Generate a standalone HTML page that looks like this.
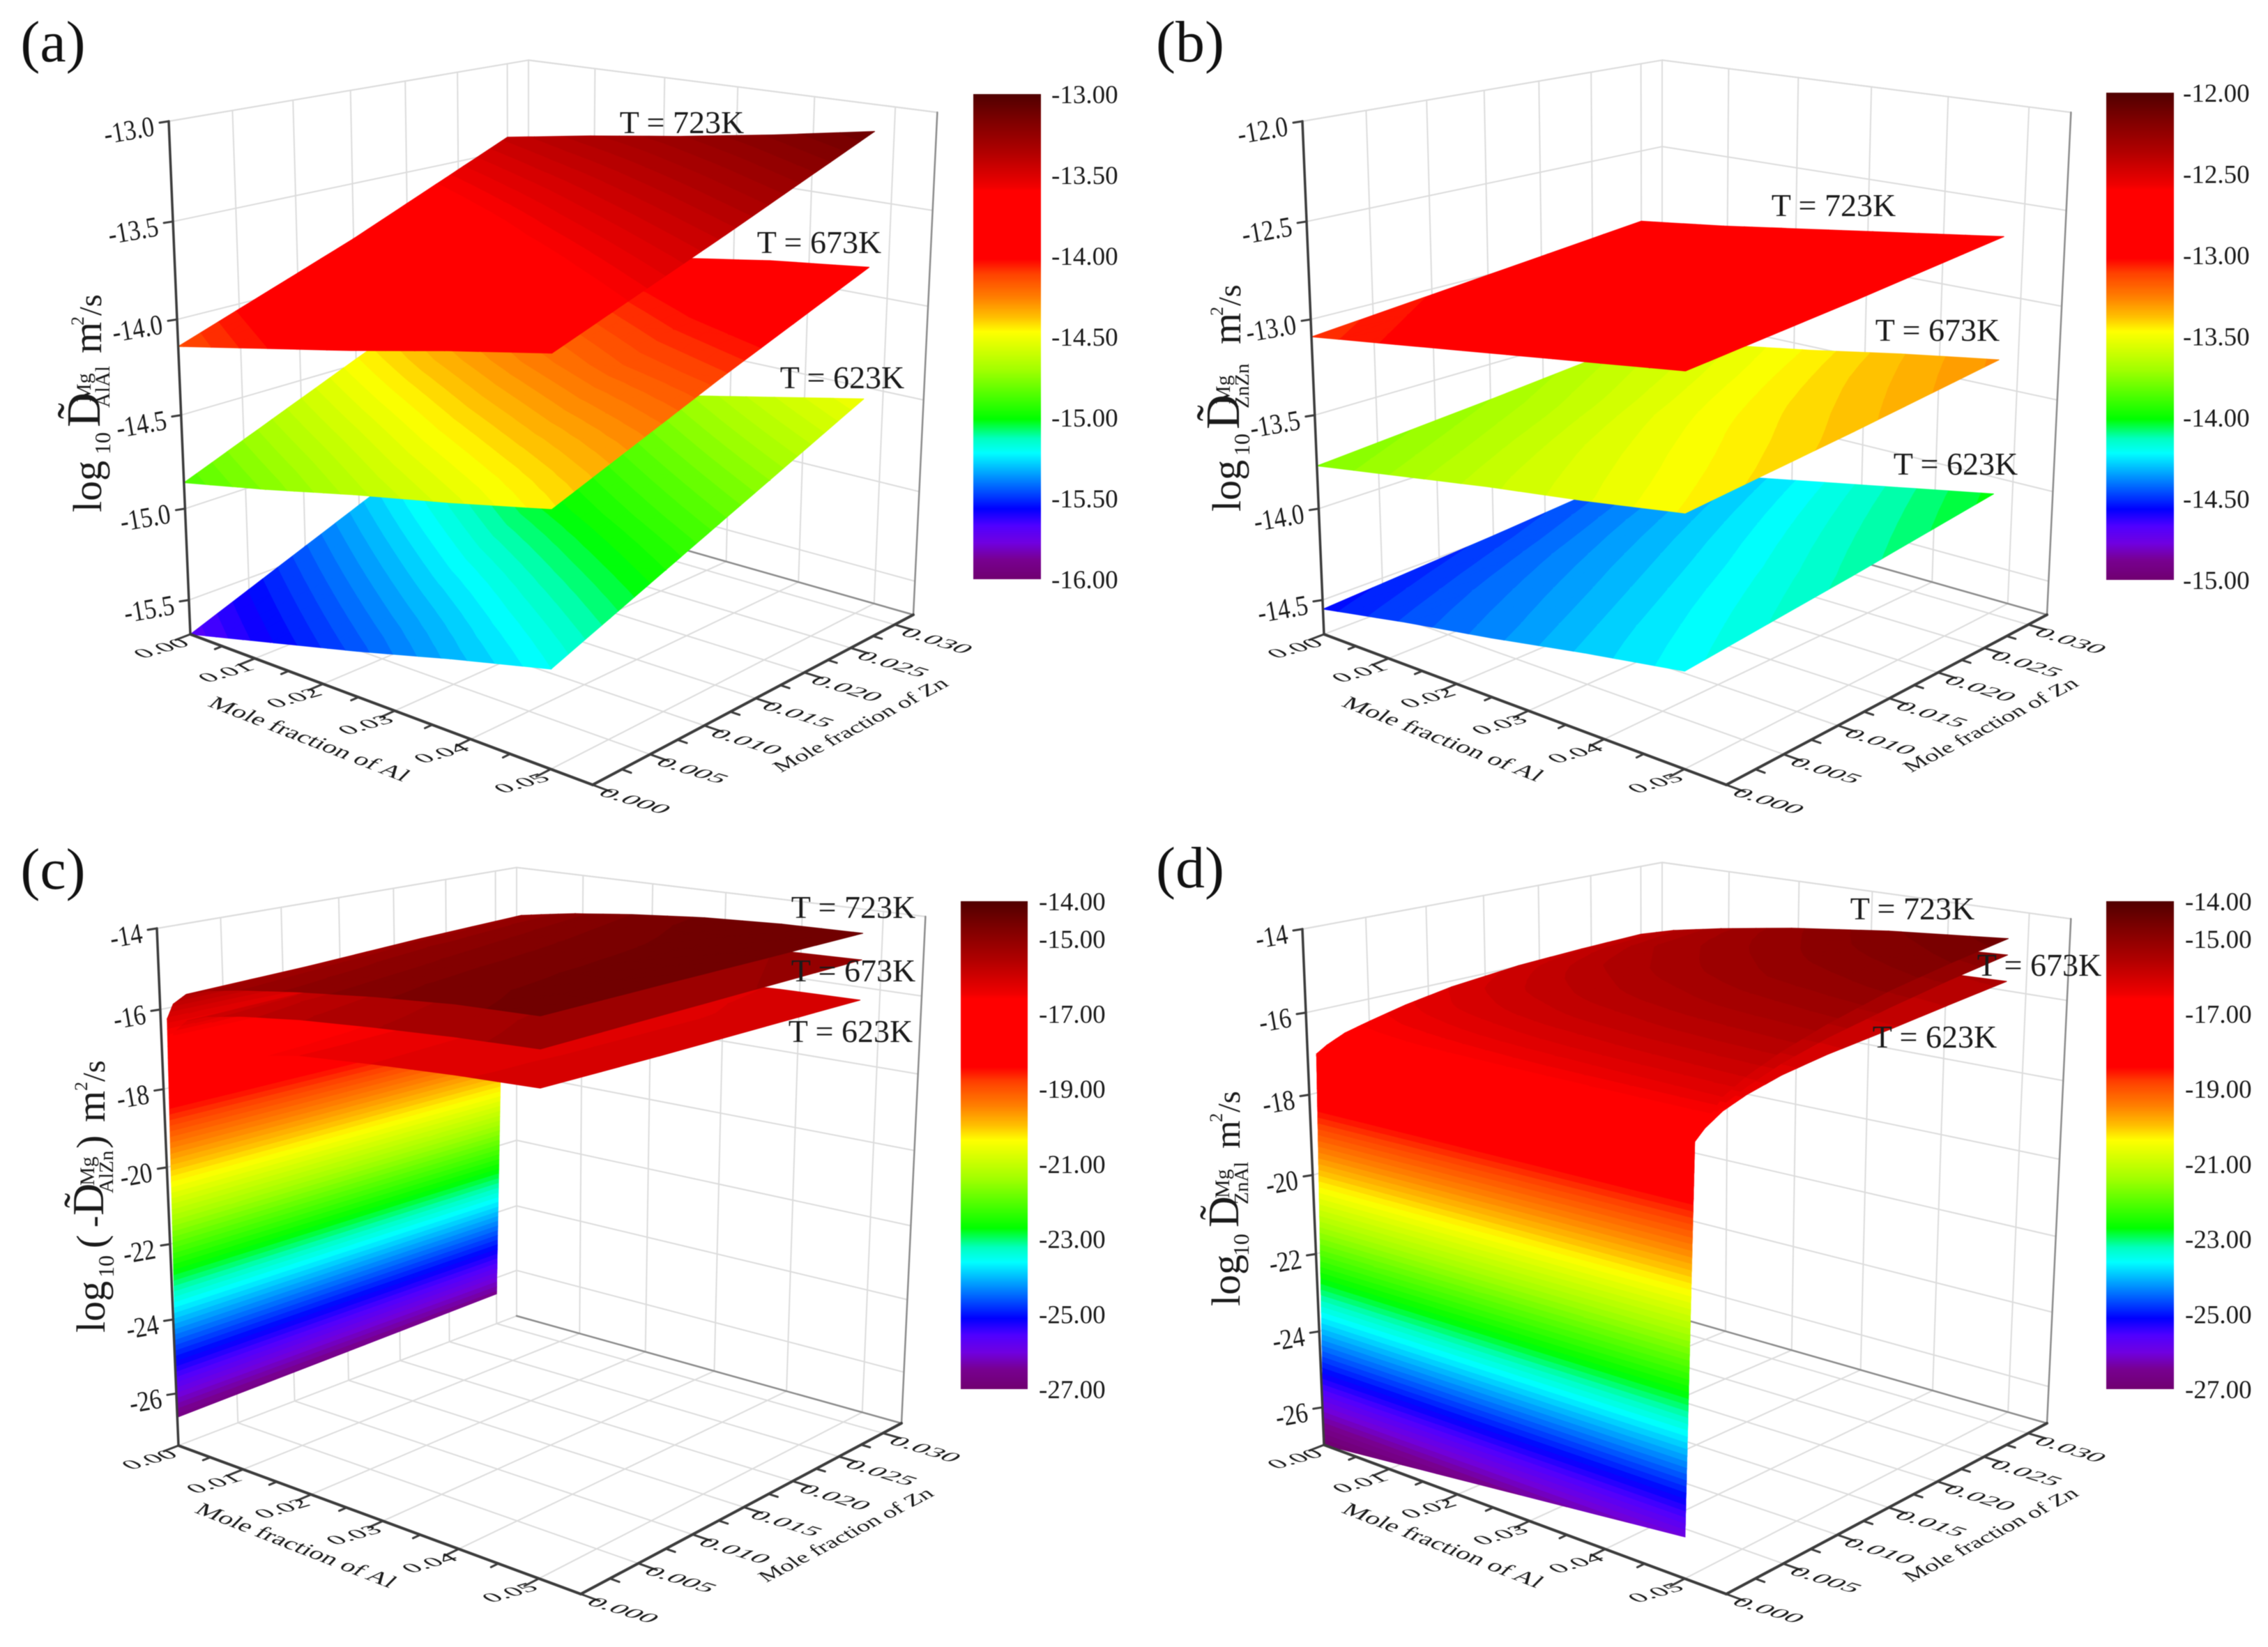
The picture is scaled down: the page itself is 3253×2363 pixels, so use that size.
<!DOCTYPE html>
<html lang="en">
<head>
<meta charset="utf-8">
<title>Interdiffusion coefficient surfaces</title>
<style>
html,body{margin:0;padding:0;background:#fff;}
svg{display:block;filter:blur(0.6px);}
text{font-family:"Liberation Serif",serif;fill:#1a1a1a;}
.t{font-size:46px;text-anchor:middle;}
.letter{font-size:84px;text-anchor:middle;fill:#111;}
.atitle{font-size:30px;text-anchor:middle;}
</style>
</head>
<body>
<svg id="figure" xmlns="http://www.w3.org/2000/svg" width="3253" height="2363" viewBox="0 0 3253 2363">
<defs><linearGradient id="cmap" x1="0" y1="0" x2="0" y2="1"></linearGradient></defs>
<rect width="3253" height="2363" fill="#fff"/>
<g id="layer-grid"></g>
<g id="layer-surfaces"></g>
<g id="layer-axes"></g>

<g>
<text class="letter" x="76" y="88">(a)</text>
<text class="letter" x="1707" y="88">(b)</text>
<text class="letter" x="76" y="1275">(c)</text>
<text class="letter" x="1707" y="1273">(d)</text>
</g>

<g>
<text class="t" x="978" y="191">T = 723K</text>
<text class="t" x="1175" y="363">T = 673K</text>
<text class="t" x="1208" y="557">T = 623K</text>
<text class="t" x="2630" y="310">T = 723K</text>
<text class="t" x="2779" y="489">T = 673K</text>
<text class="t" x="2805" y="681">T = 623K</text>
<text class="t" x="1224" y="1317">T = 723K</text>
<text class="t" x="1224" y="1408">T = 673K</text>
<text class="t" x="1220" y="1495">T = 623K</text>
<text class="t" x="2743" y="1319">T = 723K</text>
<text class="t" x="2925" y="1400">T = 673K</text>
<text class="t" x="2775" y="1503">T = 623K</text>
</g>

<g>
<text class="atitle" y="10" transform="matrix(1.21 0.47 -0.70 0.70 444 1060)">Mole fraction of Al</text>
<text class="atitle" y="10" transform="matrix(1.21 0.47 -0.70 0.70 2070 1060)">Mole fraction of Al</text>
<text class="atitle" y="10" transform="matrix(1.21 0.47 -0.70 0.70 425 2217)">Mole fraction of Al</text>
<text class="atitle" y="10" transform="matrix(1.21 0.47 -0.70 0.70 2070 2217)">Mole fraction of Al</text>
</g>
<g>
<text class="atitle" y="10" transform="matrix(1.02 -0.53 0.72 0.60 1234 1040)">Mole fraction of Zn</text>
<text class="atitle" y="10" transform="matrix(1.02 -0.53 0.72 0.60 2855 1040)">Mole fraction of Zn</text>
<text class="atitle" y="10" transform="matrix(1.02 -0.53 0.72 0.60 1213 2202)">Mole fraction of Zn</text>
<text class="atitle" y="10" transform="matrix(1.02 -0.53 0.72 0.60 2855 2202)">Mole fraction of Zn</text>
</g>

<g transform="translate(145,735) rotate(-90)">
<text x="0" y="0" font-size="58">log</text>
<text x="83" y="13" font-size="32">10</text>
<text x="122" y="-2" font-size="69">D&#771;</text>
<text x="158" y="-15" font-size="30">Mg</text>
<text x="150" y="12" font-size="30">AlAl</text>
<text x="228" y="0" font-size="58">m</text>
<text x="268" y="-25" font-size="26">2</text>
<text x="282" y="0" font-size="46">/s</text>
</g>
<g transform="translate(1779,734) rotate(-90)">
<text x="0" y="0" font-size="58">log</text>
<text x="80" y="13" font-size="32">10</text>
<text x="118" y="-2" font-size="69">D&#771;</text>
<text x="154" y="-15" font-size="30">Mg</text>
<text x="148" y="12" font-size="29">ZnZn</text>
<text x="240" y="0" font-size="58">m</text>
<text x="281" y="-25" font-size="26">2</text>
<text x="295" y="0" font-size="46">/s</text>
</g>
<g transform="translate(150,1912) rotate(-90)">
<text x="0" y="0" font-size="58">log</text>
<text x="79" y="13" font-size="32">10</text>
<text x="121" y="0" font-size="58">(</text>
<text x="151" y="0" font-size="50">-</text>
<text x="168" y="-2" font-size="64">D&#771;</text>
<text x="211" y="-15" font-size="30">Mg</text>
<text x="200" y="12" font-size="29">AlZn</text>
<text x="264" y="0" font-size="58">)</text>
<text x="302" y="0" font-size="58">m</text>
<text x="347" y="-25" font-size="26">2</text>
<text x="360" y="0" font-size="46">/s</text>
</g>
<g transform="translate(1778,1874) rotate(-90)">
<text x="0" y="0" font-size="58">log</text>
<text x="72" y="13" font-size="32">10</text>
<text x="113" y="-2" font-size="62">D&#771;</text>
<text x="155" y="-15" font-size="30">Mg</text>
<text x="146" y="12" font-size="29">ZnAl</text>
<text x="226" y="0" font-size="52">m</text>
<text x="264" y="-25" font-size="26">2</text>
<text x="278" y="0" font-size="46">/s</text>
</g>
</svg>

<script>
// ---- shared axis values ----
const alTicks = [0, 0.01, 0.02, 0.03, 0.04, 0.05];
const alMinorTicks = [0.005, 0.015, 0.025, 0.035, 0.045];
const znTicks = [0, 0.005, 0.01, 0.015, 0.02, 0.025, 0.03];
const znMinorTicks = [0.0025, 0.0075, 0.0125, 0.0175, 0.0225, 0.0275];
const alLabels = ['0.00', '0.01', '0.02', '0.03', '0.04', '0.05'];
const znLabels = ['0.000', '0.005', '0.010', '0.015', '0.020', '0.025', '0.030'];

// ---- colorbar ticks and z ticks ----
const zTicksA = [-13, -13.5, -14, -14.5, -15, -15.5];
const zTicksB = [-12, -12.5, -13, -13.5, -14, -14.5];
const zTicksC = [-14, -16, -18, -20, -22, -24, -26];
const zTicksD = [-14, -16, -18, -20, -22, -24, -26];
const cbarTicksA = [-13, -13.5, -14, -14.5, -15, -15.5, -16];
const cbarTicksB = [-12, -12.5, -13, -13.5, -14, -14.5, -15];
const cbarTicksC = [-14, -15, -17, -19, -21, -23, -25, -27];
const cbarTicksD = [-14, -15, -17, -19, -21, -23, -25, -27];

// ---- surface grids ----
const planeAl = [0, 0.0125, 0.025, 0.0375, 0.05];
const planeZn = [0, 0.015, 0.03];

const a623 = [
  [-15.69, -15.57, -15.45, -15.32, -15.2],
  [-15.31, -15.18, -15.05, -14.95, -14.85],
  [-14.93, -14.82, -14.72, -14.61, -14.5]];
const a673 = [
  [-14.86, -14.76, -14.65, -14.55, -14.44],
  [-14.47, -14.36, -14.26, -14.17, -14.11],
  [-14.09, -14.01, -13.94, -13.86, -13.8]];
const a723 = [
  [-14.14, -14.04, -13.94, -13.83, -13.73],
  [-13.8, -13.7, -13.6, -13.51, -13.42],
  [-13.42, -13.34, -13.27, -13.19, -13.1]];

const b623 = [
  [-14.55, -14.46, -14.38, -14.29, -14.21],
  [-14.49, -14.39, -14.3, -14.21, -14.12],
  [-14.42, -14.32, -14.22, -14.12, -14.02]];
const b673 = [
  [-13.77, -13.69, -13.61, -13.54, -13.46],
  [-13.7, -13.62, -13.53, -13.45, -13.38],
  [-13.62, -13.54, -13.46, -13.37, -13.29]];
const b723 = [
  [-13.09, -13.02, -12.95, -12.88, -12.81],
  [-13.0, -12.93, -12.87, -12.8, -12.73],
  [-12.91, -12.85, -12.78, -12.71, -12.64]];

const cAl = [0, 0.001, 0.002, 0.004, 0.007, 0.012, 0.02, 0.03, 0.04, 0.05];
const cZn = [0, 0.01, 0.02, 0.03];
const c623 = [
  [-26.65, -18, -17.5, -17.2, -16.95, -16.72, -16.45, -16.3, -16.18, -16.1],
  [-26.6, -17.8, -17.35, -17.05, -16.85, -16.62, -16.42, -16.28, -16.18, -16.12],
  [-26.55, -17.5, -17.15, -16.9, -16.72, -16.55, -16.4, -16.27, -16.18, -16.12],
  [-26.5, -17.2, -16.9, -16.7, -16.58, -16.46, -16.35, -16.22, -16.15, -16.12]];
const c673 = [
  [-26.65, -17, -16.5, -16.15, -15.95, -15.78, -15.6, -15.45, -15.33, -15.25],
  [-26.6, -16.8, -16.35, -16.05, -15.85, -15.68, -15.5, -15.37, -15.27, -15.2],
  [-26.55, -16.5, -16.15, -15.9, -15.72, -15.58, -15.42, -15.3, -15.2, -15.15],
  [-26.5, -16.1, -15.9, -15.7, -15.57, -15.47, -15.35, -15.22, -15.15, -15.1]];
const c723 = [
  [-26.65, -16.2, -15.8, -15.5, -15.32, -15.15, -14.95, -14.75, -14.6, -14.54],
  [-26.6, -16.0, -15.65, -15.4, -15.22, -15.05, -14.88, -14.68, -14.55, -14.5],
  [-26.55, -15.7, -15.45, -15.25, -15.12, -14.98, -14.8, -14.63, -14.52, -14.47],
  [-26.5, -15.4, -15.3, -15.15, -15.05, -14.9, -14.72, -14.55, -14.46, -14.43]];

const dAl = [0, 0.005, 0.012, 0.022, 0.035, 0.05];
const dZn = [0, 0.0007, 0.0015, 0.003, 0.005, 0.008, 0.012, 0.018, 0.024, 0.03];
const d623 = [
  [-27, -26.9, -26.76, -26.56, -26.3, -26],
  [-17.1, -17.1, -17.1, -17.1, -17.1, -17.1],
  [-16.98, -16.97, -16.96, -16.94, -16.92, -16.88],
  [-16.85, -16.82, -16.78, -16.73, -16.67, -16.62],
  [-16.75, -16.7, -16.63, -16.56, -16.48, -16.42],
  [-16.6, -16.53, -16.44, -16.35, -16.27, -16.22],
  [-16.48, -16.38, -16.27, -16.17, -16.1, -16.06],
  [-16.33, -16.22, -16.1, -16.0, -15.93, -15.9],
  [-16.25, -16.12, -15.98, -15.87, -15.79, -15.72],
  [-16.2, -16.05, -15.9, -15.76, -15.64, -15.55]];
const d673 = [
  [-27, -26.9, -26.76, -26.56, -26.3, -26],
  [-17.08, -17.08, -17.08, -17.08, -17.08, -17.08],
  [-16.95, -16.93, -16.9, -16.88, -16.86, -16.84],
  [-16.78, -16.72, -16.67, -16.6, -16.53, -16.48],
  [-16.65, -16.56, -16.47, -16.38, -16.3, -16.24],
  [-16.47, -16.36, -16.24, -16.12, -16.02, -15.95],
  [-16.3, -16.18, -16.02, -15.87, -15.75, -15.68],
  [-16.12, -15.98, -15.8, -15.62, -15.48, -15.38],
  [-16.02, -15.85, -15.63, -15.43, -15.25, -15.12],
  [-15.98, -15.78, -15.55, -15.3, -15.05, -14.9]];
const d723 = [
  [-27, -26.9, -26.76, -26.56, -26.3, -26],
  [-17.05, -17.05, -17.05, -17.05, -17.05, -17.05],
  [-16.9, -16.88, -16.85, -16.82, -16.8, -16.75],
  [-16.7, -16.65, -16.58, -16.5, -16.4, -16.3],
  [-16.55, -16.45, -16.35, -16.22, -16.1, -16.0],
  [-16.35, -16.22, -16.08, -15.92, -15.78, -15.68],
  [-16.15, -16.02, -15.85, -15.65, -15.48, -15.36],
  [-15.98, -15.82, -15.6, -15.38, -15.15, -14.98],
  [-15.9, -15.68, -15.42, -15.2, -14.93, -14.72],
  [-15.85, -15.6, -15.35, -15.05, -14.75, -14.5]];

// ---- colormap: fraction down the colorbar -> colour ----
const colormapStops = [
  [0, 80, 0, 0], [0.05, 122, 0, 0], [0.12, 176, 0, 0], [0.19, 240, 0, 0], [0.2, 255, 0, 0],
  [0.34, 255, 0, 0], [0.37, 255, 64, 0], [0.42, 255, 128, 0], [0.46, 255, 192, 0], [0.49, 255, 255, 0],
  [0.57, 160, 255, 0], [0.67, 0, 255, 0], [0.71, 0, 255, 192], [0.74, 0, 255, 255], [0.79, 0, 144, 255],
  [0.855, 0, 0, 255], [0.89, 80, 0, 255], [0.925, 112, 0, 224], [0.96, 120, 0, 144], [1, 112, 0, 112]];

const AL_MAX = 0.055, ZN_MAX = 0.0322, BAND_COUNT = 90;
const SVGNS = 'http://www.w3.org/2000/svg';
const layerGrid = document.getElementById('layer-grid');
const layerSurfaces = document.getElementById('layer-surfaces');
const layerAxes = document.getElementById('layer-axes');

const panels = [
  {key: 'a', O: [273, 910], A: [850, 1126], Zb: [758, 725], B: [1310, 882], W: [242, 174], gamma: 0.94,
   zMin: -15.69, zMax: -13, zTicks: zTicksA, zDigits: 1, als: planeAl, zns: planeZn, surfaces: [a623, a673, a723],
   names: ['surface-a-623k', 'surface-a-673k', 'surface-a-723k'], wallCols: 0, split: 3,
   bar: {x: 1396, y: 135, w: 97, h: 696, top: -13, bottom: -16, ticks: cbarTicksA, labelX: 1508}},
  {key: 'b', O: [1899, 910], A: [2476, 1126], Zb: [2384, 725], B: [2936, 882], W: [1868, 174], gamma: 0.94,
   zMin: -14.69, zMax: -12, zTicks: zTicksB, zDigits: 1, als: planeAl, zns: planeZn, surfaces: [b623, b673, b723],
   names: ['surface-b-623k', 'surface-b-673k', 'surface-b-723k'], wallCols: 0, split: 3,
   bar: {x: 3021, y: 133, w: 97, h: 699, top: -12, bottom: -15, ticks: cbarTicksB, labelX: 3131}},
  {key: 'c', O: [256, 2074], A: [833, 2287], Zb: [741, 1888], B: [1293, 2042], W: [225, 1332], gamma: 0.94,
   zMin: -27.43, zMax: -14, zTicks: zTicksC, zDigits: 0, als: cAl, zns: cZn, surfaces: [c623, c673, c723],
   names: ['surface-c-623k', 'surface-c-673k', 'surface-c-723k'], wallCols: 1, split: 2,
   bar: {x: 1378, y: 1293, w: 96, h: 700, top: -14, bottom: -27, ticks: cbarTicksC, labelX: 1490}},
  {key: 'd', O: [1899, 2073], A: [2476, 2287], Zb: [2384, 1884], B: [2936, 2042], W: [1868, 1333], gamma: 0.94,
   zMin: -27, zMax: -14, zTicks: zTicksD, zDigits: 0, als: dAl, zns: dZn, surfaces: [d623, d673, d723],
   names: ['surface-d-623k', 'surface-d-673k', 'surface-d-723k'], wallCols: 0, split: 2,
   bar: {x: 3021, y: 1293, w: 97, h: 700, top: -14, bottom: -27, ticks: cbarTicksD, labelX: 3134}}
];

function det3(m) {
  return m[0][0] * (m[1][1] * m[2][2] - m[1][2] * m[2][1])
       - m[0][1] * (m[1][0] * m[2][2] - m[1][2] * m[2][0])
       + m[0][2] * (m[1][0] * m[2][1] - m[1][1] * m[2][0]);
}
function solve3(c1, c2, c3, r) {
  const col = (a, b, c) => [[a[0], b[0], c[0]], [a[1], b[1], c[1]], [a[2], b[2], c[2]]];
  const D = det3(col(c1, c2, c3));
  return [det3(col(r, c2, c3)) / D, det3(col(c1, r, c3)) / D, det3(col(c1, c2, r)) / D];
}
function makeProjection(p) {
  const O = [p.O[0], p.O[1], 1], A = [p.A[0], p.A[1], 1], Z = [p.Zb[0], p.Zb[1], 1];
  const B = [p.B[0], p.B[1], 1], W = [p.W[0], p.W[1], 1];
  const s = solve3(A, Z, [-B[0], -B[1], -B[2]], O);
  const c1 = A.map((v, i) => s[0] * v - O[i]);
  const c2 = Z.map((v, i) => s[1] * v - O[i]);
  const c3 = W.map((v, i) => p.gamma * v - O[i]);
  return function (al, zn, z) {
    const u = al / AL_MAX, v = zn / ZN_MAX, w = (z - p.zMin) / (p.zMax - p.zMin);
    const h = [0, 1, 2].map(i => u * c1[i] + v * c2[i] + w * c3[i] + O[i]);
    return [h[0] / h[2], h[1] / h[2]];
  };
}
function colorAt(frac) {
  const f = Math.max(0, Math.min(1, frac));
  for (let i = 1; i < colormapStops.length; i++) {
    const a = colormapStops[i - 1], b = colormapStops[i];
    if (f <= b[0]) {
      const t = (f - a[0]) / (b[0] - a[0] || 1);
      return 'rgb(' + [1, 2, 3].map(k => Math.round(a[k] + t * (b[k] - a[k]))).join(',') + ')';
    }
  }
  return 'rgb(112,0,112)';
}
function line(parent, a, b, stroke, width) {
  const n = document.createElementNS(SVGNS, 'line');
  n.setAttribute('x1', a[0].toFixed(1));
  n.setAttribute('y1', a[1].toFixed(1));
  n.setAttribute('x2', b[0].toFixed(1));
  n.setAttribute('y2', b[1].toFixed(1));
  n.setAttribute('stroke', stroke);
  n.setAttribute('stroke-width', width);
  n.setAttribute('stroke-linecap', 'round');
  parent.appendChild(n);
  return n;
}
function group(parent) {
  const g = document.createElementNS(SVGNS, 'g');
  parent.appendChild(g);
  return g;
}
function label(parent, str, size, anchor, transform, yShift) {
  const t = document.createElementNS(SVGNS, 'text');
  t.textContent = str;
  t.setAttribute('font-size', size);
  t.setAttribute('text-anchor', anchor);
  t.setAttribute('y', yShift);
  t.setAttribute('transform', transform);
  parent.appendChild(t);
  return t;
}

function drawGrid(p, proj) {
  const g = group(layerGrid);
  
  
  const light = '#dcdcdc';
  for (const z of p.zTicks) {
    line(g, proj(0, 0, z), proj(0, ZN_MAX, z), light, 2);
    line(g, proj(0, ZN_MAX, z), proj(AL_MAX, ZN_MAX, z), light, 2);
  }
  for (const al of alTicks) {
    if (al === 0) continue;
    line(g, proj(al, 0, p.zMin), proj(al, ZN_MAX, p.zMin), light, 2);
    line(g, proj(al, ZN_MAX, p.zMin), proj(al, ZN_MAX, p.zMax), light, 2);
  }
  for (const zn of znTicks) {
    if (zn === 0) continue;
    line(g, proj(0, zn, p.zMin), proj(AL_MAX, zn, p.zMin), light, 2);
    line(g, proj(0, zn, p.zMin), proj(0, zn, p.zMax), light, 2);
  }
  line(g, proj(0, 0, p.zMin), proj(0, ZN_MAX, p.zMin), light, 2);
  line(g, proj(0, ZN_MAX, p.zMin), proj(0, ZN_MAX, p.zMax), light, 2);
  line(g, proj(0, 0, p.zMax), proj(0, ZN_MAX, p.zMax), light, 2);
  line(g, proj(0, ZN_MAX, p.zMax), proj(AL_MAX, ZN_MAX, p.zMax), light, 2);
  line(g, proj(0, ZN_MAX, p.zMin), proj(AL_MAX, ZN_MAX, p.zMin), '#8c8c8c', 2.5);
  line(g, proj(AL_MAX, ZN_MAX, p.zMin), proj(AL_MAX, ZN_MAX, p.zMax), '#8c8c8c', 2.5);
}

// Clip a polygon of [al, zn, z] vertices to the half-space keep(z) bounded by level.
function clipZ(poly, level, above) {
  const out = [];
  for (let k = 0; k < poly.length; k++) {
    const a = poly[k], b = poly[(k + 1) % poly.length];
    const ina = above ? a[2] >= level : a[2] <= level;
    const inb = above ? b[2] >= level : b[2] <= level;
    if (ina) out.push(a);
    if (ina !== inb) {
      const t = (level - a[2]) / (b[2] - a[2]);
      out.push([a[0] + t * (b[0] - a[0]), a[1] + t * (b[1] - a[1]), level]);
    }
  }
  return out;
}

function drawTriangle(parent, p, proj, tri) {
  const bandH = (p.bar.top - p.bar.bottom) / BAND_COUNT;
  const zs = tri.map(v => v[2]);
  const k0 = Math.floor((p.bar.top - Math.max.apply(null, zs)) / bandH);
  const k1 = Math.floor((p.bar.top - Math.min.apply(null, zs)) / bandH);
  for (let k = k0; k <= k1; k++) {
    const hi = p.bar.top - k * bandH, lo = hi - bandH;
    const poly = clipZ(clipZ(tri, lo, true), hi, false);
    if (poly.length < 3) continue;
    const col = colorAt((k + 0.5) / BAND_COUNT);
    const q = document.createElementNS(SVGNS, 'polygon');
    
    
    q.setAttribute('points', poly.map(v => {
      const m = proj(v[0], v[1], v[2]);
      return m[0].toFixed(1) + ',' + m[1].toFixed(1);
    }).join(' '));
    q.setAttribute('fill', col);
    q.setAttribute('stroke', col);
    q.setAttribute('stroke-width', '1');
    parent.appendChild(q);
  }
}

function drawCell(parent, p, proj, matrix, i, j) {
  const als = p.als, zns = p.zns, n = p.split;
  const z00 = matrix[j][i], z10 = matrix[j][i + 1], z01 = matrix[j + 1][i], z11 = matrix[j + 1][i + 1];
  const vtx = (s, t) => [
    als[i] + s * (als[i + 1] - als[i]),
    zns[j] + t * (zns[j + 1] - zns[j]),
    z00 * (1 - s) * (1 - t) + z10 * s * (1 - t) + z01 * (1 - s) * t + z11 * s * t];
  for (let a = 0; a < n; a++) {
    for (let b = 0; b < n; b++) {
      const v00 = vtx(a / n, b / n), v10 = vtx((a + 1) / n, b / n);
      const v01 = vtx(a / n, (b + 1) / n), v11 = vtx((a + 1) / n, (b + 1) / n);
      drawTriangle(parent, p, proj, [v00, v10, v11]);
      drawTriangle(parent, p, proj, [v00, v11, v01]);
    }
  }
}

function drawSurfaces(p, proj) {
  if (p.wallCols > 0) {
    const wall = group(layerSurfaces);
    
    
    p.surfaces.forEach(matrix => {
      for (let j = p.zns.length - 2; j >= 0; j--) {
        for (let i = 0; i < p.wallCols; i++) drawCell(wall, p, proj, matrix, i, j);
      }
    });
  }
  p.surfaces.forEach((matrix, idx) => {
    const g = group(layerSurfaces);
    
    
    for (let j = p.zns.length - 2; j >= 0; j--) {
      for (let i = p.wallCols; i < p.als.length - 1; i++) drawCell(g, p, proj, matrix, i, j);
    }
  });
}

function drawAxes(p, proj) {
  const g = group(layerAxes);
  
  
  const ink = '#3c3c3c';
  const zBase = line(g, proj(0, 0, p.zMin), proj(0, 0, p.zMax), ink, 3.5);
  
  
  const alBase = line(g, proj(0, 0, p.zMin), proj(AL_MAX, 0, p.zMin), ink, 4);
  
  
  const znBase = line(g, proj(AL_MAX, 0, p.zMin), proj(AL_MAX, ZN_MAX, p.zMin), ink, 4);
  
  

  p.zTicks.forEach(z => {
    const a = proj(0, 0, z);
    line(g, a, [a[0] - 13, a[1] + 2], ink, 3);
    const m = 'translate(' + (a[0] - 19).toFixed(1) + ',' + (a[1] + 20).toFixed(1) + ') rotate(-10) scale(0.85,1)';
    const t = label(g, z.toFixed(p.zDigits), 41, 'end', m, 0);
    
    
  });
  alTicks.forEach((al, i) => {
    const a = proj(al, 0, p.zMin);
    line(g, a, proj(al, -0.0012, p.zMin), ink, 3);
    const m = 'matrix(1.33 -0.38 0.85 0.50 ' + (a[0] - 42).toFixed(1) + ' ' + (a[1] + 20).toFixed(1) + ')';
    const t = label(g, alLabels[i], 30, 'middle', m, 10);
    
    
  });
  alMinorTicks.forEach(al => {
    line(g, proj(al, 0, p.zMin), proj(al, -0.0006, p.zMin), ink, 3);
  });
  znTicks.forEach((zn, i) => {
    const a = proj(AL_MAX, zn, p.zMin);
    line(g, a, proj(AL_MAX + 0.0022, zn, p.zMin), ink, 3);
    const m = 'matrix(1.39 0.42 -0.85 0.50 ' + (a[0] + 61).toFixed(1) + ' ' + (a[1] + 23).toFixed(1) + ')';
    const t = label(g, znLabels[i], 30, 'middle', m, 10);
    
    
  });
  znMinorTicks.forEach(zn => {
    line(g, proj(AL_MAX, zn, p.zMin), proj(AL_MAX + 0.0011, zn, p.zMin), ink, 3);
  });
}

function drawColorbar(p) {
  const g = group(layerAxes);
  
  
  const bar = p.bar;
  const r = document.createElementNS(SVGNS, 'rect');
  
  
  r.setAttribute('x', bar.x);
  r.setAttribute('y', bar.y);
  r.setAttribute('width', bar.w);
  r.setAttribute('height', bar.h);
  r.setAttribute('fill', 'url(#cmap)');
  g.appendChild(r);
  bar.ticks.forEach(v => {
    const y = bar.y + bar.h * (bar.top - v) / (bar.top - bar.bottom);
    const t = label(g, v.toFixed(2), 37, 'start', 'translate(' + bar.labelX + ',' + (y + 13).toFixed(1) + ')', 0);
    
    
  });
}

const grad = document.getElementById('cmap');
colormapStops.forEach(s => {
  const st = document.createElementNS(SVGNS, 'stop');
  st.setAttribute('offset', s[0]);
  st.setAttribute('stop-color', 'rgb(' + s[1] + ',' + s[2] + ',' + s[3] + ')');
  grad.appendChild(st);
});

panels.forEach(p => {
  const proj = makeProjection(p);
  drawGrid(p, proj);
  drawSurfaces(p, proj);
  drawAxes(p, proj);
  drawColorbar(p);
});
</script>
</body>
</html>
